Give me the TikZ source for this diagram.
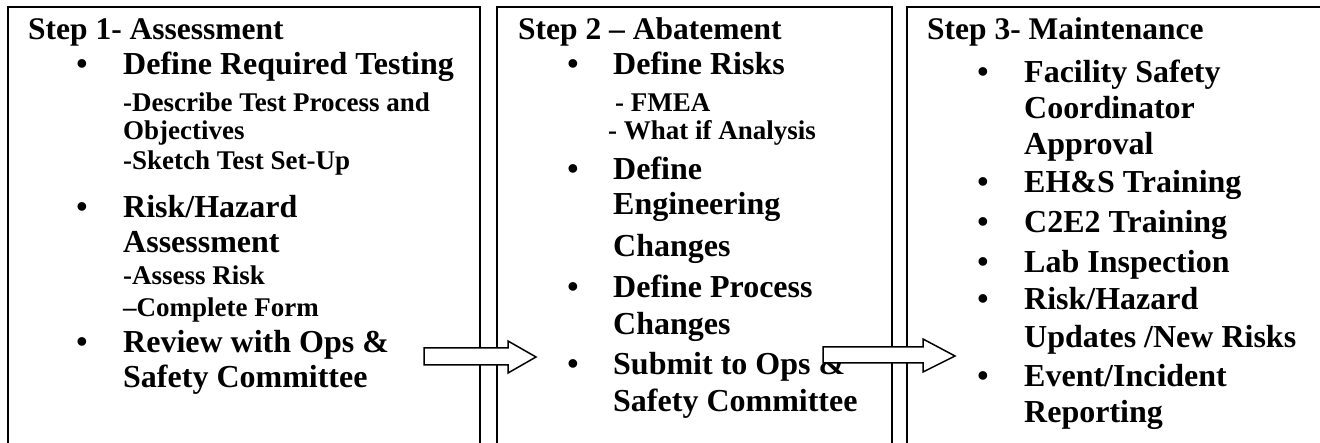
\documentclass[tikz,border=0pt]{standalone}
\usepackage{fontspec}
\setmainfont{Liberation Serif}
\begin{document}
\begin{tikzpicture}[x=1pt, y=-1pt,
  heading/.style={anchor=base west, inner sep=0pt, font=\bfseries\fontsize{31.5}{36}\selectfont},
  item/.style={anchor=base west, inner sep=0pt, font=\bfseries\fontsize{32}{38}\selectfont},
  sub/.style={anchor=base west, inner sep=0pt, font=\bfseries\fontsize{27}{30}\selectfont},
  dot/.style={anchor=base, inner sep=0pt, font=\bfseries\fontsize{32}{38}\selectfont},
  frame/.style={draw, line width=2pt},
  blockarrow/.style={draw, fill=white, line width=1.5pt, line join=miter}]
  \useasboundingbox (0, 0) rectangle (1320, 443);
  \clip (0, 0) rectangle (1320, 443);

  % the three step boxes, open at the bottom
  \draw[frame] (8, 460) -- (8, 7) -- (480, 7) -- (480, 460);
  \draw[frame] (497, 460) -- (497, 7) -- (892, 7) -- (892, 460);
  \draw[frame] (907, 460) -- (907, 7) -- (1340, 7);

  % Step 1
  \node[heading] (s1) at (28, 40) {Step 1- Assessment};
  \node[item] (s1a) at (123, 75) {Define Required Testing};
  \node[sub] (s1a1) at (123, 112) {-Describe Test Process and};
  \node[sub] (s1a2) at (123, 140) {Objectives};
  \node[sub] (s1a3) at (123, 170) {-Sketch Test Set-Up};
  \node[item] (s1b) at (123, 218) {Risk/Hazard};
  \node[item] (s1b0) at (123, 253) {Assessment};
  \node[sub] (s1b1) at (123, 285) {-Assess Risk};
  \node[sub] (s1b2) at (123, 317) {–Complete Form};
  \node[item] (s1c) at (123, 353) {Review with Ops \&};
  \node[item] (s1c0) at (123, 388) {Safety Committee};

  % Step 2
  \node[heading] (s2) at (518, 40) {Step 2 – Abatement};
  \node[item] (s2a) at (613, 75) {Define Risks};
  \node[sub] (s2a1) at (615, 112) {- FMEA};
  \node[sub] (s2a2) at (608, 140) {- What if Analysis};
  \node[item] (s2b) at (613, 180) {Define};
  \node[item] (s2b0) at (613, 215) {Engineering};
  \node[item] (s2b1) at (613, 257) {Changes};
  \node[item] (s2c) at (613, 298) {Define Process};
  \node[item] (s2c0) at (613, 335) {Changes};
  \node[item] (s2d) at (613, 375) {Submit to Ops \&};
  \node[item] (s2d0) at (613, 412) {Safety Committee};

  % Step 3
  \node[heading] (s3) at (927, 40) {Step 3- Maintenance};
  \foreach \y/\t [count=\i] in {83/{Facility Safety}, 119/{Coordinator}, 155/{Approval},
      193/{EH\&S Training}, 233/{C2E2 Training}, 273/{Lab Inspection}, 310/{Risk/Hazard},
      348/{Updates /New Risks}, 387/{Event/Incident}, 423/{Reporting}}
    \node[item] (s3-\i) at (1024, \y) {\t};

  % bullets
  \foreach \x/\y [count=\i] in {82/75, 82/218, 82/353, 573/75, 573/180, 573/298,
      573/375, 983/83, 983/193, 983/233, 983/273, 983/310, 983/387}
    \node[dot] (dot\i) at (\x, \y) {•};

  % block arrows between the steps
  \draw[blockarrow] (424, 348) -- (508, 348) -- (508, 341) -- (536, 357)
    -- (508, 373) -- (508, 365) -- (424, 365) -- cycle;
  \draw[blockarrow] (823, 347) -- (923, 347) -- (923, 339) -- (955, 356)
    -- (923, 372) -- (923, 363) -- (823, 363) -- cycle;
\end{tikzpicture}
\end{document}
